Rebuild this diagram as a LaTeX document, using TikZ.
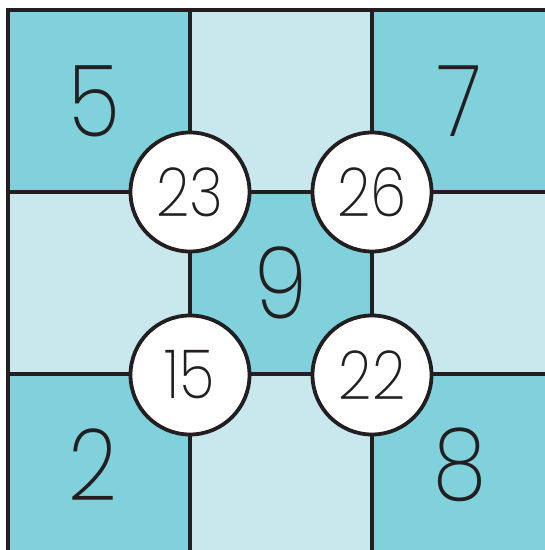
\documentclass[tikz,border=0pt]{standalone}
\usepackage{fontspec}
\usepackage{tikz}
\usetikzlibrary{positioning}
\newfontfamily\numfont{Poppins ExtraLight}[FakeStretch=0.86]
\definecolor{tealdark}{HTML}{80D1DB}
\definecolor{teallight}{HTML}{C8E8EE}
\definecolor{inkblack}{HTML}{231F20}

\begin{document}
\begin{tikzpicture}[
  x=1bp, y=-1bp,
  cell/.style={draw=inkblack, line width=3.8bp},
  big/.style={font=\numfont\fontsize{100}{100}\selectfont, inner sep=0pt, text=inkblack},
  sum/.style={circle, draw=inkblack, line width=3.8bp, fill=white, minimum size=119bp, inner sep=0pt, font=\numfont\fontsize{68}{68}\selectfont, text=inkblack}
]
  \useasboundingbox (0,0) rectangle (545,550);
  \clip (0,0) rectangle (545,550);

  % cells, checkerboard
  \foreach \i in {0,1,2}{
    \foreach \j in {0,1,2}{
      \pgfmathtruncatemacro{\parity}{mod(\i+\j,2)}
      \ifnum\parity=0
        \filldraw[cell, fill=tealdark] (8+182*\i, 10+182*\j) rectangle ++(182,182);
      \else
        \filldraw[cell, fill=teallight] (8+182*\i, 10+182*\j) rectangle ++(182,182);
      \fi
    }
  }

  % corner and centre numbers
  \node[big] (five) at (94, 101) {5};
  \node[big] (seven) at (460, 101) {7};
  \node[big] (nine) at (281, 283) {9};
  \node[big] (two) at (93, 465) {2};
  \node[big] (eight) at (460, 465) {8};

  % sums
  \node[sum] (s23) at (190, 192) {23};
  \node[sum] (s26) at (372, 192) {26};
  \node[sum] (s15) at (190, 375) {15};
  \node[sum] (s22) at (372, 375) {22};
\end{tikzpicture}
\end{document}
